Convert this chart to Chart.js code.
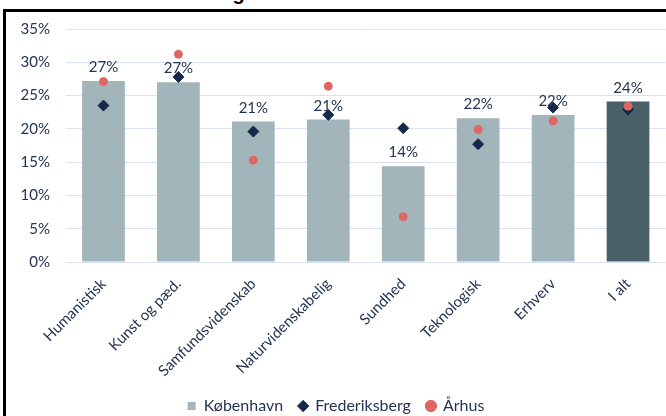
<!DOCTYPE html>
<html>
<head>
<meta charset="utf-8">
<script src="https://cdn.jsdelivr.net/npm/chart.js@4.4.1/dist/chart.umd.min.js"></script>
<style>
  html, body { margin: 0; padding: 0; background: #fff; overflow: hidden; }
  #wrap { position: relative; width: 666px; height: 416px; overflow: hidden; }
  #chart { position: absolute; left: 0; top: 0; }
  #frame { position: absolute; left: 3px; top: 9px; width: 670px; height: 420px;
           border-top: 3px solid #000; border-left: 3px solid #000; pointer-events: none; }
  #titel { position: absolute; left: 0; top: -17px; width: 634px; text-align: center;
           font: bold 20px "Liberation Sans", Arial, sans-serif; line-height: 20px; color: #000; }
</style>
</head>
<body>
<div id="wrap">
  <div id="titel">og uddannelsessted</div>
  <canvas id="chart" width="672" height="424"></canvas>
  <div id="frame"></div>
</div>
<script>
// kategorier og værdier (pct.)
const kategorier = ['Humanistisk', 'Kunst og pæd.', 'Samfundsvidenskab', 'Naturvidenskabelig', 'Sundhed', 'Teknologisk', 'Erhverv', 'I alt'];
const koebenhavn = [27.2, 27.0, 21.1, 21.4, 14.4, 21.6, 22.1, 24.1];
const frederiksberg = [23.5, 27.8, 19.6, 22.1, 20.1, 17.7, 23.2, 22.9];
const aarhus = [27.1, 31.2, 15.3, 26.4, 6.8, 19.9, 21.2, 23.4];
const yTicks = [0, 5, 10, 15, 20, 25, 30, 35];

const tekstFarve = '#243452';
const font = { family: 'Lato, "Liberation Sans", sans-serif', size: 15 };

// farver på søjlerne, "I alt" er mørkere
const soejleFarver = kategorier.map(k => k === 'I alt' ? '#4a6068' : '#a1b5ba');

// skriver procenttal over søjlerne
const vaerdiLabels = {
    id: 'vaerdiLabels',
    afterDatasetsDraw(chart) {
        const ctx = chart.ctx;
        const meta = chart.getDatasetMeta(0);
        ctx.save();
        ctx.font = '15px ' + font.family;
        ctx.fillStyle = tekstFarve;
        ctx.textAlign = 'center';
        ctx.textBaseline = 'alphabetic';
        meta.data.forEach((bar, i) => {
            ctx.fillText(Math.round(koebenhavn[i]) + '%', bar.x, bar.y - 9);
        });
        ctx.restore();
    }
};

new Chart(document.getElementById('chart'), {
    type: 'bar',
    data: {
        labels: kategorier,
        datasets: [
            {
                label: 'København',
                data: koebenhavn,
                backgroundColor: soejleFarver,
                pointStyle: 'rect',
                barPercentage: 0.57,
                categoryPercentage: 1,
                order: 2
            },
            {
                type: 'line',
                label: 'Frederiksberg',
                data: frederiksberg,
                showLine: false,
                pointStyle: 'rectRot',
                pointRadius: 5.5,
                pointBackgroundColor: '#17294a',
                pointBorderColor: '#17294a',
                backgroundColor: '#17294a',
                borderColor: '#17294a',
                order: 1
            },
            {
                type: 'line',
                label: 'Århus',
                data: aarhus,
                showLine: false,
                pointStyle: 'circle',
                pointRadius: 4,
                pointBackgroundColor: '#de6663',
                pointBorderColor: '#de6663',
                backgroundColor: '#de6663',
                borderColor: '#de6663',
                order: 0
            }
        ]
    },
    options: {
        responsive: false,
        animation: false,
        layout: { padding: { top: 29, right: 0, left: 0, bottom: 0 } },
        scales: {
            x: {
                grid: { display: false },
                border: { display: false },
                ticks: {
                    color: tekstFarve,
                    font: font,
                    minRotation: 45,
                    maxRotation: 45,
                    padding: 5
                },
                afterFit(scale) { scale.height = 120; }
            },
            y: {
                min: 0,
                max: 35,
                afterBuildTicks(scale) { scale.ticks = yTicks.map(v => ({ value: v })); },
                grid: { color: '#d9e1f2', lineWidth: 1, drawTicks: false },
                border: { display: false },
                ticks: {
                    color: tekstFarve,
                    font: font,
                    padding: 16,
                    callback: v => v + '%'
                },
                afterFit(scale) { scale.width = 66; }
            }
        },
        plugins: {
            legend: {
                position: 'bottom',
                labels: {
                    color: tekstFarve,
                    font: { family: font.family, size: 16 },
                    usePointStyle: true,
                    boxWidth: 8,
                    boxHeight: 8,
                    padding: 16,
                    sort: (a, b) => a.datasetIndex - b.datasetIndex
                }
            },
            tooltip: { enabled: false }
        }
    },
    plugins: [vaerdiLabels]
});
</script>
</body>
</html>
